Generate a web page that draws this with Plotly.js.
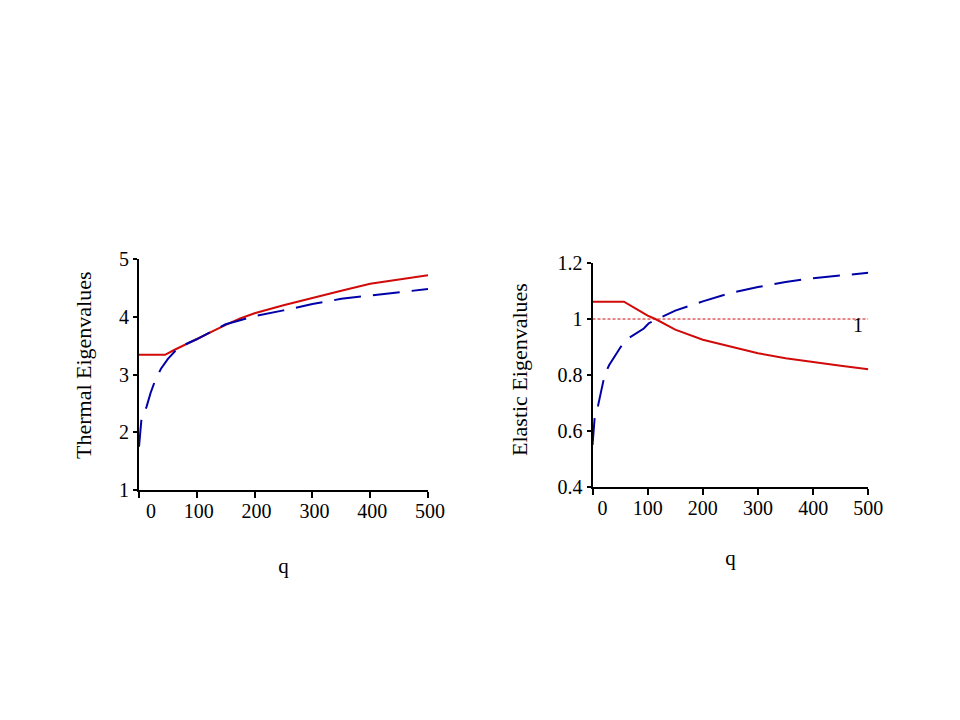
<!DOCTYPE html>
<html>
<head>
<meta charset="utf-8">
<script src="https://cdn.plot.ly/plotly-3.0.1.min.js"></script>
<style>
  body { margin: 0; background: #fff; }
  #chart { width: 960px; height: 720px; }
</style>
</head>
<body>
<div id="chart"></div>
<script>
// thermal eigenvalues (left panel)
let thermalQRed = [0, 45, 60, 80, 100, 125, 150, 175, 200, 250, 300, 350, 400, 450, 500];
let thermalRed = [3.34, 3.34, 3.42, 3.52, 3.61, 3.74, 3.86, 3.97, 4.06, 4.2, 4.33, 4.45, 4.57, 4.65, 4.72];
let thermalQBlue = [0, 2, 4, 13, 20, 28, 38, 50, 63, 80, 100, 125, 150, 175, 200, 250, 300, 350, 400, 450, 500];
let thermalBlue = [1.75, 2.0, 2.2, 2.44, 2.68, 2.9, 3.1, 3.27, 3.41, 3.52, 3.61, 3.74, 3.87, 3.94, 4.01, 4.11, 4.22, 4.31, 4.37, 4.42, 4.48];

// elastic eigenvalues (right panel)
let elasticQRed = [0, 57, 80, 100, 114, 150, 200, 250, 300, 350, 400, 450, 500];
let elasticRed = [1.062, 1.062, 1.035, 1.012, 1.0, 0.962, 0.926, 0.902, 0.878, 0.86, 0.846, 0.833, 0.821];
let elasticQBlue = [0, 2, 4, 10, 22, 30, 51, 64, 93, 102, 150, 200, 250, 300, 350, 400, 450, 500];
let elasticBlue = [0.55, 0.6, 0.65, 0.69, 0.8, 0.835, 0.9, 0.93, 0.966, 0.985, 1.03, 1.063, 1.093, 1.114, 1.132, 1.146, 1.156, 1.165];
let elasticMarker = 1;

let qTicks = [0, 100, 200, 300, 400, 500];
let qTickText = ['\u00a0\u00a0\u00a0\u00a00', '100', '200', '300', '400', '500'];
let thermalTicks = [1, 2, 3, 4, 5];
let elasticTicks = [0.4, 0.6, 0.8, 1, 1.2];
let elasticTickText = ['0.4', '0.6', '0.8', '1', '1.2'];

const RED = '#d10a0a';
const BLUE = '#0000a8';
const FONT = 'Liberation Serif, Times New Roman, serif';
const leftX = [0.1448, 0.4458], rightX = [0.6172, 0.9045];
const leftY = [0.3194, 0.6403], rightY = [0.3236, 0.6347];

let traces = [
  { x: thermalQRed, y: thermalRed, xaxis: 'x', yaxis: 'y', mode: 'lines',
    line: { color: RED, width: 2 } },
  { x: thermalQBlue, y: thermalBlue, xaxis: 'x', yaxis: 'y', mode: 'lines',
    line: { color: BLUE, width: 2, dash: '27px,12px' } },
  { x: elasticQRed, y: elasticRed, xaxis: 'x2', yaxis: 'y2', mode: 'lines',
    line: { color: RED, width: 2 } },
  { x: elasticQBlue, y: elasticBlue, xaxis: 'x2', yaxis: 'y2', mode: 'lines',
    line: { color: BLUE, width: 2, dash: '27px,12px' } }
];

function axis(domain, anchor, range, vals, text, len) {
  return {
    domain: domain, anchor: anchor, range: range,
    tickmode: 'array', tickvals: vals, ticktext: text,
    ticks: 'outside', ticklen: len, tickwidth: 2, tickcolor: '#000',
    showline: true, linecolor: '#000', linewidth: 2,
    showgrid: false, zeroline: false,
    tickfont: { family: FONT, size: 20, color: '#000' }
  };
}

// second copy of each axis, only to make the ticks cross the axis line
function ticksInside(domain, anchor, over, range, vals) {
  return {
    domain: domain, anchor: anchor, overlaying: over, range: range,
    tickmode: 'array', tickvals: vals,
    ticks: 'inside', ticklen: 6, tickwidth: 2, tickcolor: '#000',
    showticklabels: false, showline: false, showgrid: false, zeroline: false
  };
}

let layout = {
  width: 960, height: 720,
  margin: { l: 0, r: 0, t: 0, b: 0 },
  paper_bgcolor: '#fff', plot_bgcolor: '#fff',
  showlegend: false,
  font: { family: FONT, size: 20, color: '#000' },
  xaxis: Object.assign(axis(leftX, 'y', [0, 500], qTicks, qTickText, 6), {
    ticklabelstandoff: -4, ticklabelshift: 2,
    title: { text: 'q', font: { family: FONT, size: 21 }, standoff: 37 }
  }),
  xaxis2: Object.assign(axis(rightX, 'y2', [0, 500], qTicks, qTickText, 6), {
    ticklabelstandoff: -4,
    title: { text: 'q', font: { family: FONT, size: 21 }, standoff: 32 }
  }),
  xaxis3: ticksInside(leftX, 'y', 'x', [0, 500], qTicks),
  xaxis4: ticksInside(rightX, 'y2', 'x2', [0, 500], qTicks),
  yaxis: axis(leftY, 'x', [1, 5], thermalTicks, null, 4),
  yaxis2: axis(rightY, 'x2', [0.4, 1.2], elasticTicks, elasticTickText, 4),
  yaxis3: ticksInside(leftY, 'x', 'y', [1, 5], thermalTicks),
  yaxis4: ticksInside(rightY, 'x2', 'y2', [0.4, 1.2], elasticTicks),
  shapes: [
    { type: 'line', xref: 'x2', yref: 'y2', x0: 0, x1: 500,
      y0: elasticMarker, y1: elasticMarker,
      line: { color: RED, width: 1, dash: '3px,2px' } }
  ],
  annotations: [
    { xref: 'x2', yref: 'y2', x: 481, y: elasticMarker, yshift: -6,
      text: String(elasticMarker), showarrow: false,
      font: { family: FONT, size: 20, color: '#000' } },
    { xref: 'paper', yref: 'paper', x: 83 / 960, y: 1 - 365 / 720,
      xanchor: 'center', yanchor: 'middle',
      text: 'Thermal Eigenvalues', textangle: -90, showarrow: false,
      font: { family: FONT, size: 22, color: '#000' } },
    { xref: 'paper', yref: 'paper', x: 520 / 960, y: 1 - 370 / 720,
      xanchor: 'center', yanchor: 'middle',
      text: 'Elastic Eigenvalues', textangle: -90, showarrow: false,
      font: { family: FONT, size: 22, color: '#000' } }
  ]
};

Plotly.newPlot('chart', traces, layout, { staticPlot: true, displayModeBar: false });
</script>
</body>
</html>
